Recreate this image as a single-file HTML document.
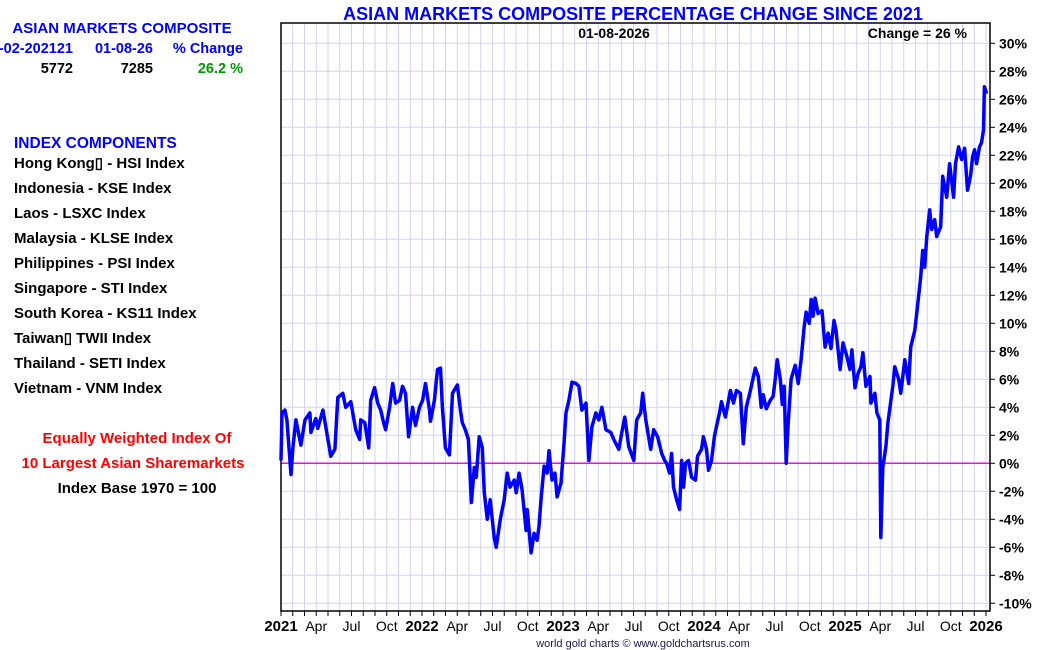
<!DOCTYPE html>
<html><head><meta charset="utf-8"><style>
html,body{margin:0;padding:0;background:#fff;}
svg{display:block;font-family:"Liberation Sans",Arial,sans-serif;font-weight:bold;}
</style></head><body>
<svg id="chart" width="1050" height="650" viewBox="0 0 1050 650">
<rect x="281" y="23" width="709" height="588" fill="#fff"/>
<g id="grid"></g>
<g id="axes"></g>
<g id="series"></g>
<g font-size="15">
<text x="122" y="33" text-anchor="middle" fill="#0000ff" font-size="15">ASIAN MARKETS COMPOSITE</text>
<text x="73" y="53" text-anchor="end" fill="#0000ff" font-size="14.5">-02-202121</text>
<text x="153" y="53" text-anchor="end" fill="#0000ff" font-size="14.5">01-08-26</text>
<text x="243" y="53" text-anchor="end" fill="#0000ff" font-size="14.5">% Change</text>
<text x="73" y="73" text-anchor="end" fill="#000" font-size="14.5">5772</text>
<text x="153" y="73" text-anchor="end" fill="#000" font-size="14.5">7285</text>
<text x="243" y="73" text-anchor="end" fill="#009900" font-size="14.5">26.2 %</text>
<text x="14" y="148" fill="#0000ff" font-size="15.5">INDEX COMPONENTS</text>
<g fill="#000">
<text x="14" y="168">Hong Kong▯ - HSI Index</text>
<text x="14" y="193">Indonesia - KSE Index</text>
<text x="14" y="218">Laos - LSXC Index</text>
<text x="14" y="243">Malaysia - KLSE Index</text>
<text x="14" y="268">Philippines - PSI Index</text>
<text x="14" y="293">Singapore - STI Index</text>
<text x="14" y="318">South Korea - KS11 Index</text>
<text x="14" y="343">Taiwan▯ TWII Index</text>
<text x="14" y="368">Thailand - SETI Index</text>
<text x="14" y="393">Vietnam - VNM Index</text>
</g>
<text x="137" y="443" text-anchor="middle" fill="#ff0000">Equally Weighted Index Of</text>
<text x="133" y="468" text-anchor="middle" fill="#ff0000">10 Largest Asian Sharemarkets</text>
<text x="137" y="493" text-anchor="middle" fill="#000">Index Base 1970 = 100</text>
</g>
<text x="633" y="20" text-anchor="middle" fill="#0000ff" font-size="18">ASIAN MARKETS COMPOSITE PERCENTAGE CHANGE SINCE 2021</text>
<text x="614" y="38" text-anchor="middle" fill="#000" font-size="14">01-08-2026</text>
<text x="967" y="38" text-anchor="end" fill="#000" font-size="14">Change = 26 %</text>
<text x="643" y="647" text-anchor="middle" fill="#1a1a50" font-size="11" font-weight="normal">world gold charts © www.goldchartsrus.com</text>
</svg>
<script>
const yTicks=[30,28,26,24,22,20,18,16,14,12,10,8,6,4,2,0,-2,-4,-6,-8,-10];
const xLabels=["2021","Apr","Jul","Oct","2022","Apr","Jul","Oct","2023","Apr","Jul","Oct","2024","Apr","Jul","Oct","2025","Apr","Jul","Oct","2026"];
const times=[0,.007,.028,.042,.071,.085,.106,.141,.170,.205,.212,.247,.261,.297,.318,.353,.382,.403,.438,.459,.495,.530,.558,.565,.594,.622,.636,.664,.686,.707,.728,.742,.770,.792,.813,.841,.862,.883,.905,.933,.954,.982,1.004,1.025,1.053,1.060,1.088,1.110,1.131,1.145,1.166,1.194,1.216,1.251,1.272,1.286,1.307,1.329,1.350,1.371,1.385,1.406,1.428,1.442,1.463,1.484,1.512,1.526,1.555,1.583,1.604,1.625,1.654,1.668,1.689,1.710,1.738,1.746,1.774,1.795,1.816,1.830,1.844,1.866,1.887,1.901,1.922,1.943,1.958,1.986,2.007,2.021,2.042,2.064,2.092,2.113,2.134,2.163,2.184,2.205,2.233,2.254,2.276,2.304,2.339,2.360,2.396,2.417,2.438,2.466,2.502,2.523,2.551,2.565,2.587,2.622,2.643,2.671,2.700,2.721,2.735,2.756,2.770,2.784,2.806,2.827,2.841,2.855,2.869,2.890,2.912,2.940,2.954,2.982,2.996,3.018,3.032,3.053,3.074,3.088,3.110,3.124,3.152,3.187,3.209,3.230,3.258,3.279,3.300,3.329,3.364,3.385,3.406,3.420,3.442,3.470,3.491,3.505,3.519,3.541,3.555,3.569,3.583,3.597,3.618,3.647,3.668,3.689,3.710,3.724,3.746,3.760,3.774,3.788,3.809,3.837,3.859,3.880,3.901,3.922,3.936,3.965,3.986,4.014,4.035,4.049,4.071,4.092,4.113,4.127,4.148,4.177,4.184,4.212,4.226,4.247,4.254,4.268,4.290,4.304,4.339,4.353,4.381,4.396,4.424,4.452,4.466,4.495,4.516,4.537,4.551,4.565,4.580,4.601,4.615,4.636,4.650,4.679,4.693,4.721,4.742,4.770,4.784,4.806,4.827,4.848,4.869,4.890,4.905,4.919,4.933,4.954,4.968,4.982,4.989,5.004];
const pctChange=[0.2,3.6,3.8,3.1,-0.8,1.2,3.1,1.3,3.1,3.6,2.2,3.2,2.5,3.8,2.6,0.5,1.0,4.7,5.0,4.0,4.4,2.4,1.7,3.1,2.9,1.1,4.5,5.4,4.3,3.8,2.9,2.4,4.0,5.7,4.3,4.5,5.5,5.0,1.9,4.0,2.7,4.0,4.5,5.7,3.8,3.0,4.5,6.7,6.8,4.0,1.1,0.6,5.0,5.6,3.8,2.9,2.4,1.7,-2.8,-0.3,-1.0,1.9,1.1,-2.1,-4.0,-2.6,-5.3,-6.0,-4.0,-2.6,-0.7,-1.7,-1.2,-2.1,-0.7,-1.9,-4.8,-3.3,-6.4,-5.0,-5.5,-4.5,-2.6,-0.2,-0.7,0.9,-1.2,-0.7,-2.4,-1.4,1.4,3.6,4.5,5.8,5.7,5.5,3.8,4.3,0.2,2.6,3.6,3.1,4.0,2.4,2.2,1.7,1.0,2.2,3.3,1.2,0.2,3.1,3.6,5.0,3.1,1.0,2.4,1.9,0.7,0.2,0.0,-0.7,0.7,-1.7,-2.6,-3.3,0.2,-1.7,0.0,0.2,-1.0,-1.2,0.5,1.0,1.9,1.0,-0.5,0.2,1.9,2.6,3.6,4.4,3.3,5.2,4.3,5.2,5.0,1.4,4.0,5.2,6.8,6.2,4.0,4.9,3.9,4.5,4.8,6.0,7.4,6.0,4.2,5.5,0.0,2.9,6.0,7.0,5.7,7.4,9.7,10.8,10.0,11.7,10.5,11.8,10.7,10.9,8.3,9.3,8.2,10.2,9.5,6.7,8.6,7.6,6.7,8.1,5.4,6.4,6.9,7.9,5.5,6.2,4.3,5.0,3.6,3.1,-5.3,-0.3,1.2,2.9,5.5,6.9,6.0,5.0,7.4,5.7,8.3,9.5,11.4,13.3,15.2,14.0,16.2,18.1,16.7,17.4,16.2,16.9,20.5,19.0,21.4,19.0,21.4,22.6,21.7,22.5,19.5,20.5,21.9,22.4,21.4,22.6,22.9,23.8,26.9,26.4];

const NS="http://www.w3.org/2000/svg";
const L=281,R=990,T=23,B=611;
const yOf=v=>463.3-v*14;
const xOf=t=>L+t*(986-L)/5;
function mk(tag,attrs,parent){const e=document.createElementNS(NS,tag);for(const k in attrs)e.setAttribute(k,attrs[k]);parent.appendChild(e);return e;}
const grid=document.getElementById('grid'),axes=document.getElementById('axes'),series=document.getElementById('series');
for(let m=0;m<=60;m++){const x=xOf(m/12);
 if(m>0&&x<R){const g=mk('line',{x1:x,x2:x,y1:T,y2:B,stroke:'#d2d2f2','stroke-width':1},grid);
 
 }
 const tk=mk('line',{x1:x,x2:x,y1:B,y2:B+5,stroke:'#000','stroke-width':1},axes);
 
 
}
xLabels.forEach((lab,i)=>{const t=mk('text',{x:xOf(i/4),y:B+20,'text-anchor':'middle','font-size':i%4===0?15:14,'font-weight':i%4===0?'bold':'normal',fill:'#000'},axes);t.textContent=lab;
 
 });
yTicks.forEach(v=>{const y=yOf(v);
 const g=mk('line',{x1:L,x2:R,y1:y,y2:y,stroke:'#d2d2f2','stroke-width':1},grid);
 
 
 const tk=mk('line',{x1:R,x2:R+5,y1:y,y2:y,stroke:'#000','stroke-width':1},axes);
 
 
 const t=mk('text',{x:R+9,y:y+5,'font-size':14,fill:'#000'},axes);t.textContent=v+'%';
 
 });
const zl=mk('line',{x1:L,x2:R,y1:yOf(0),y2:yOf(0),stroke:'#ff00ff','stroke-width':1.5},grid);


const frame=mk('path',{d:`M${L} ${T}H${R}V${B}H${L}Z`,fill:'none',stroke:'#000','stroke-width':1.5},axes);


let d='';times.forEach((t,i)=>{d+=(i?'L':'M')+xOf(t).toFixed(1)+' '+yOf(pctChange[i]).toFixed(1);});
const line=mk('path',{d:d,fill:'none',stroke:'#0000ff','stroke-width':3.5,'stroke-linejoin':'round'},series);


</script>
</body></html>
